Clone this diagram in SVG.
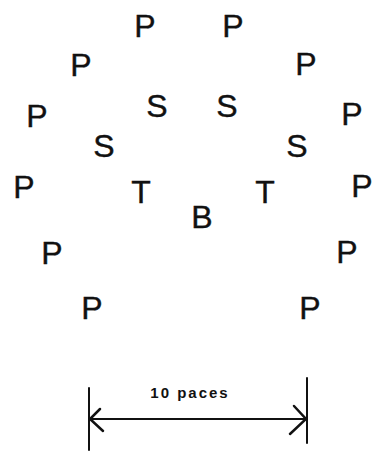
<svg xmlns="http://www.w3.org/2000/svg" width="373" height="460" viewBox="0 0 373 460">
<style>
.l{font-family:"Liberation Sans",Arial,sans-serif;font-size:32px;fill:#111;text-anchor:middle;stroke:#111;stroke-width:0.4}
.cap{font-family:"Liberation Sans",Arial,sans-serif;font-size:15px;font-weight:bold;fill:#111;text-anchor:middle;letter-spacing:2px}
.ln{stroke:#111;fill:none;stroke-linecap:round}
</style>
<rect width="373" height="460" fill="#fff"/>
<g id="p1"><text class="l" x="145" y="37">P</text></g>
<g id="p2"><text class="l" x="233" y="37">P</text></g>
<g id="p3"><text class="l" x="81" y="76">P</text></g>
<g id="p4"><text class="l" x="306" y="75">P</text></g>
<g id="s1"><text class="l" x="157" y="117">S</text></g>
<g id="s2"><text class="l" x="227" y="117">S</text></g>
<g id="p5"><text class="l" x="37" y="127">P</text></g>
<g id="p6"><text class="l" x="352" y="125">P</text></g>
<g id="s3"><text class="l" x="104" y="157">S</text></g>
<g id="s4"><text class="l" x="297" y="157">S</text></g>
<g id="p7"><text class="l" x="24" y="198">P</text></g>
<g id="t1"><text class="l" x="141" y="203">T</text></g>
<g id="t2"><text class="l" x="265" y="203">T</text></g>
<g id="p8"><text class="l" x="362" y="197">P</text></g>
<g id="b1"><text class="l" x="202" y="228">B</text></g>
<g id="p9"><text class="l" x="52" y="264">P</text></g>
<g id="p10"><text class="l" x="347" y="263">P</text></g>
<g id="p11"><text class="l" x="92" y="319">P</text></g>
<g id="p12"><text class="l" x="310" y="319">P</text></g>
<g id="connectors">
<line class="ln" x1="89" y1="388" x2="89" y2="450" stroke-width="2"/>
<line class="ln" x1="307" y1="378" x2="307" y2="443" stroke-width="2"/>
<line class="ln" x1="90" y1="419" x2="306" y2="419" stroke-width="2"/>
<polyline class="ln" points="100,409 90,419 103,431" stroke-width="2.5"/>
<polyline class="ln" points="294,406 306,419 290,434" stroke-width="2.5"/>
<text class="cap" x="190" y="398">10 paces</text>
</g>
</svg>
